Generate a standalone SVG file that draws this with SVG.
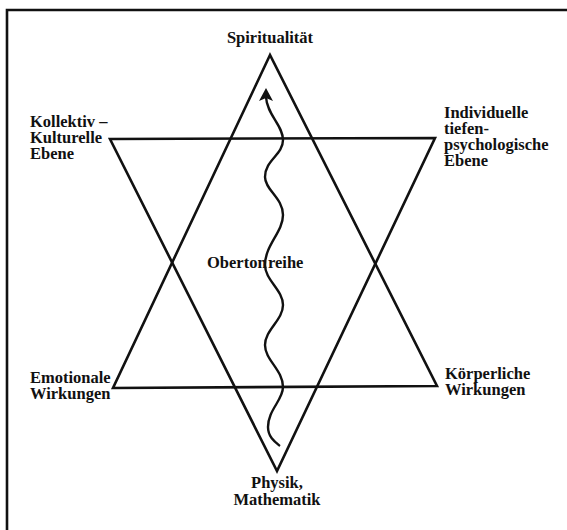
<svg xmlns="http://www.w3.org/2000/svg" width="567" height="530" viewBox="0 0 567 530">
<style>
.t{font-family:"Liberation Serif","Times New Roman",serif;font-weight:bold;font-size:16.5px;fill:#111}
.ln{fill:none;stroke:#111;stroke-width:2.6;stroke-linejoin:miter}
.wave{fill:none;stroke:#111;stroke-width:2.4}
.head{fill:#111}
</style>
<rect width="567" height="530" fill="#fff"/>
<g id="frame">
<path class="ln" d="M7,530 L7,10 L567,10"/>
</g>
<g id="connectors">
<polygon id="tri-up" class="ln" points="270,55 113,388 437,386"/>
<polygon id="tri-down" class="ln" points="110,139 435,138 277,471"/>
<path id="oberton-wave" class="wave" d="M280,446 C275,442 268,437 268,427 C268,410 283,400 283,387 C283,370 265,360 265,345 C265,330 283,320 283,305 C283,290 265,280 265,265 C265,245 283,232 283,215 C283,198 265,190 265,177 C265,160 283,155 283,140 C283,125 267,115 266,97"/>
<path class="head" d="M266,88 L273,101 L266,98 L259,101 z"/>
</g>
<g id="n-spiritualitaet"><text class="t" x="270" y="43" text-anchor="middle">Spiritualität</text></g>
<g id="n-kollektiv"><text class="t" x="30" y="127">Kollektiv –</text><text class="t" x="30" y="143">Kulturelle</text><text class="t" x="30" y="159">Ebene</text></g>
<g id="n-individuell"><text class="t" x="444" y="118">Individuelle</text><text class="t" x="444" y="134">tiefen-</text><text class="t" x="444" y="150">psychologische</text><text class="t" x="444" y="166">Ebene</text></g>
<g id="n-emotional"><text class="t" x="30" y="383">Emotionale</text><text class="t" x="30" y="399">Wirkungen</text></g>
<g id="n-koerper"><text class="t" x="445" y="379">Körperliche</text><text class="t" x="445" y="395">Wirkungen</text></g>
<g id="n-physik"><text class="t" x="277" y="488" text-anchor="middle">Physik,</text><text class="t" x="277" y="505" text-anchor="middle">Mathematik</text></g>
<g id="n-oberton"><text class="t" x="207" y="268">Oberton</text><text class="t" x="268" y="268">reihe</text></g>
</svg>
